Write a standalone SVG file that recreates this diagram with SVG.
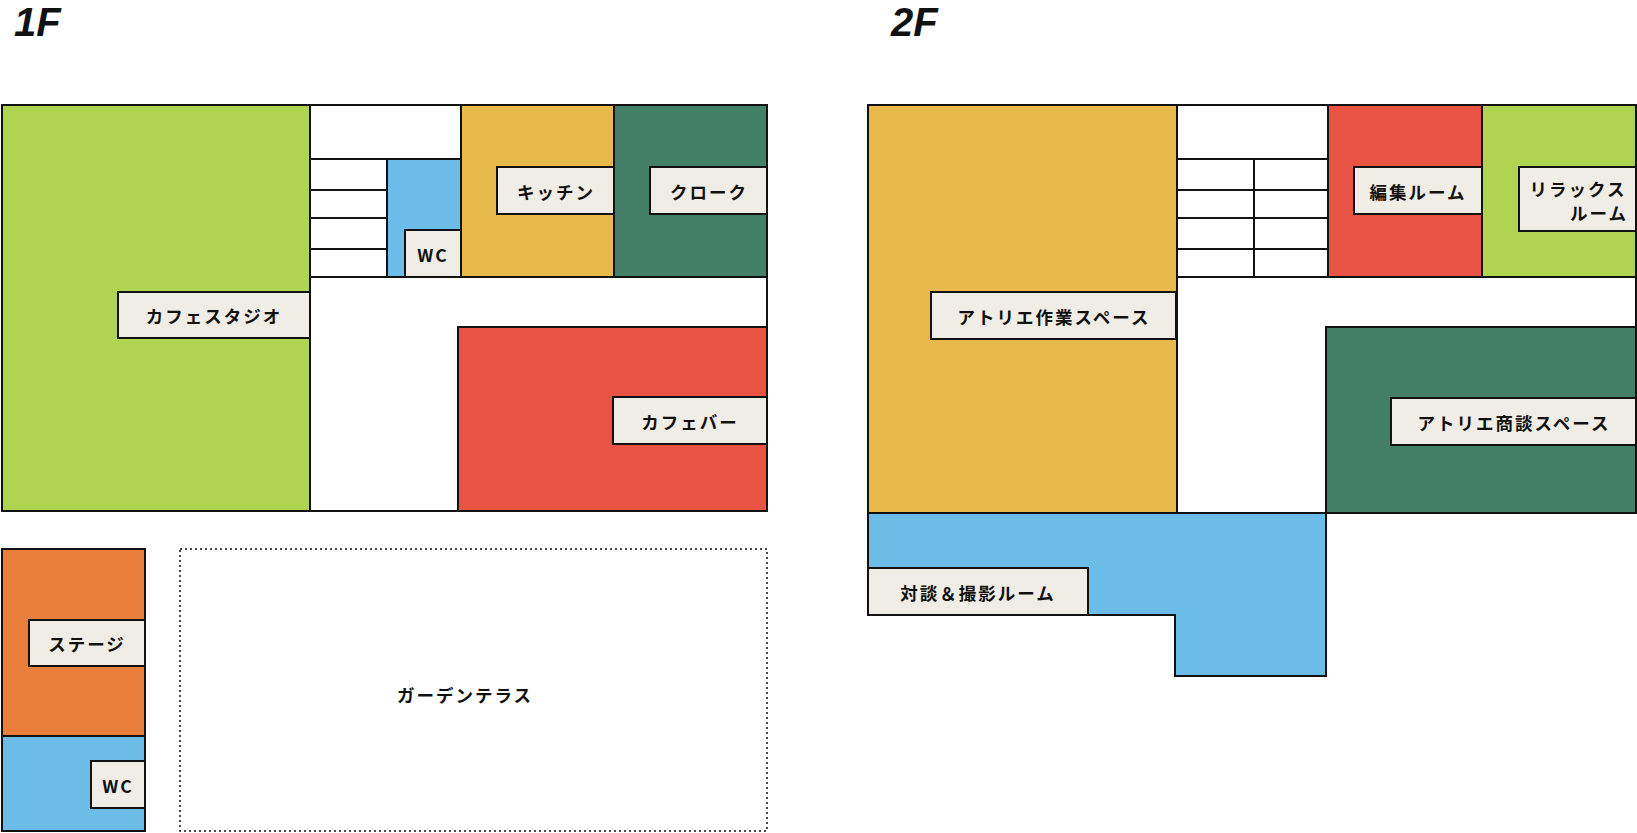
<svg xmlns="http://www.w3.org/2000/svg" width="1637" height="833" viewBox="0 0 1637 833">
<style>
.r{stroke:#111;stroke-width:2}
.l{fill:#f0ede6;stroke:#111;stroke-width:2}
.t{font-family:"Noto Sans CJK JP","Noto Sans",sans-serif;font-weight:bold;font-size:17.5px;letter-spacing:2px;fill:#111;text-anchor:middle;dominant-baseline:central}
.h{font-family:"Liberation Sans",sans-serif;font-style:italic;font-weight:bold;font-size:40px;fill:#111}
.s{stroke:#111;stroke-width:2}
</style>
<rect width="1637" height="833" fill="#fff"/>
<text class="h" x="14" y="36">1F</text>
<text class="h" x="891" y="36">2F</text>
<g id="floor1">
<rect class="r" x="2" y="105" width="765" height="406" fill="#fff"/>
<g id="cafe-studio"><rect class="r" x="2" y="105" width="308" height="406" fill="#b1d352"/><rect class="l" x="118" y="292" width="192" height="46"/><text class="t" x="214" y="315">カフェスタジオ</text></g>
<g id="stairs1"><rect class="r" x="310" y="105" width="151" height="172" fill="#fff"/><path class="s" d="M310 159H387M310 190H387M310 218H387M310 249H387"/></g>
<g id="wc1"><rect class="r" x="387" y="159" width="74" height="118" fill="#6bbde8"/><rect class="l" x="405" y="230" width="56" height="47"/><text class="t" x="433" y="254">WC</text></g>
<g id="kitchen"><rect class="r" x="461" y="105" width="153" height="172" fill="#e8ba4b"/><rect class="l" x="497" y="167" width="117" height="47"/><text class="t" x="556" y="191">キッチン</text></g>
<g id="cloak"><rect class="r" x="614" y="105" width="153" height="172" fill="#437f66"/><rect class="l" x="650" y="167" width="117" height="47"/><text class="t" x="709" y="191">クローク</text></g>
<g id="cafe-bar"><rect class="r" x="458" y="327" width="309" height="184" fill="#e85343"/><rect class="l" x="613" y="397" width="154" height="47"/><text class="t" x="690" y="421">カフェバー</text></g>
<g id="stage"><rect class="r" x="2" y="549" width="143" height="187" fill="#e97f3a"/><rect class="l" x="29" y="620" width="116" height="46"/><text class="t" x="87" y="643">ステージ</text></g>
<g id="wc1b"><rect class="r" x="2" y="736" width="143" height="95" fill="#6bbde8"/><rect class="l" x="91" y="761" width="54" height="47"/><text class="t" x="118" y="785">WC</text></g>
<g id="garden"><rect x="180" y="549" width="587" height="282" fill="none" stroke="#111" stroke-width="1.5" stroke-dasharray="2 3"/><text class="t" x="465" y="694">ガーデンテラス</text></g>
</g>
<g id="floor2">
<rect class="r" x="868" y="105" width="768" height="408" fill="#fff"/>
<g id="atelier-work"><rect class="r" x="868" y="105" width="309" height="408" fill="#e8ba4b"/><rect class="l" x="931" y="292" width="245" height="47"/><text class="t" x="1054" y="316">アトリエ作業スペース</text></g>
<g id="stairs2"><rect class="r" x="1177" y="105" width="151" height="172" fill="#fff"/><path class="s" d="M1177 159H1328M1177 190H1328M1177 218H1328M1177 249H1328M1254 159V277"/></g>
<g id="edit"><rect class="r" x="1328" y="105" width="154" height="172" fill="#e85343"/><rect class="l" x="1354" y="167" width="128" height="47"/><text class="t" x="1418" y="191">編集ルーム</text></g>
<g id="relax"><rect class="r" x="1482" y="105" width="154" height="172" fill="#b1d352"/><rect class="l" x="1519" y="167" width="117" height="64"/><text class="t" x="1578" y="188">リラックス</text><text class="t" x="1628" y="212" style="text-anchor:end">ルーム</text></g>
<g id="atelier-meeting"><rect class="r" x="1326" y="327" width="310" height="186" fill="#437f66"/><rect class="l" x="1391" y="398" width="245" height="47"/><text class="t" x="1514" y="422">アトリエ商談スペース</text></g>
<g id="talk"><path class="r" d="M868 513H1326V676H1175V615H868Z" fill="#6bbde8"/><rect class="l" x="868" y="568" width="220" height="47"/><text class="t" x="978" y="592">対談＆撮影ルーム</text></g>
</g>
</svg>
